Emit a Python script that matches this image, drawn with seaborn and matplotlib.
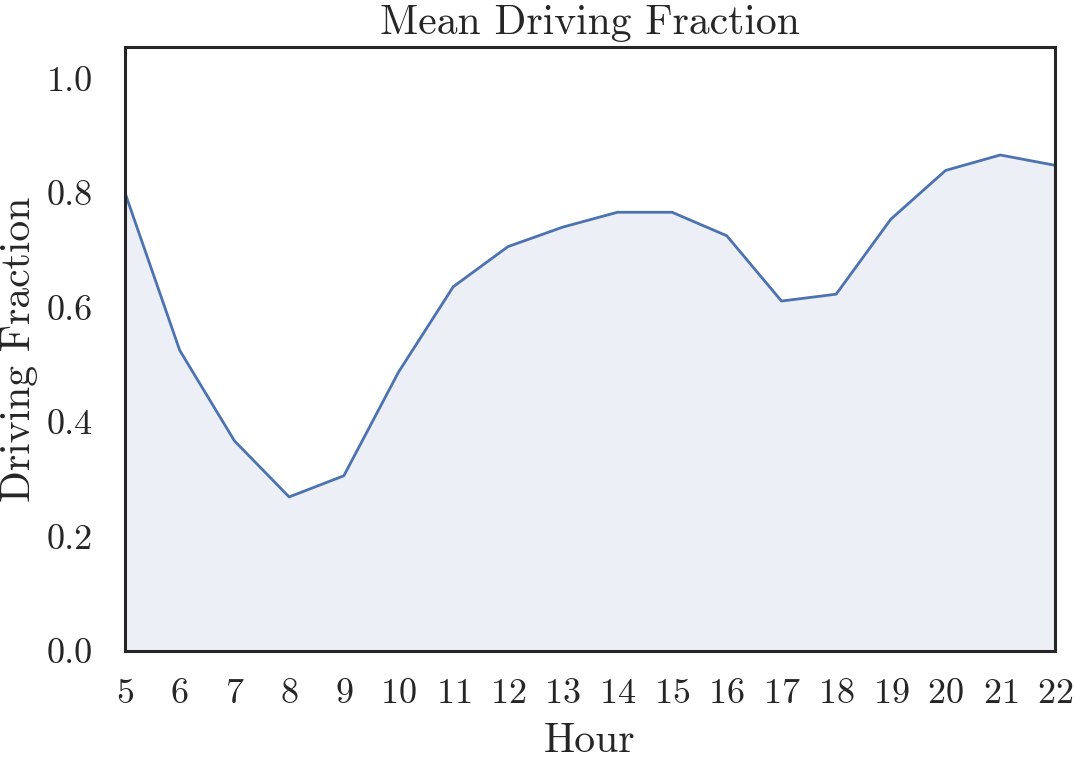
import matplotlib
matplotlib.use("Agg")
import matplotlib.pyplot as plt
import seaborn as sns
import pandas as pd

# hourly mean driving fraction
hours = [5, 6, 7, 8, 9, 10, 11, 12, 13, 14, 15, 16, 17, 18, 19, 20, 21, 22]
driving_fraction = [0.800, 0.525, 0.367, 0.269, 0.306, 0.487, 0.636, 0.706, 0.740,
                    0.766, 0.766, 0.725, 0.611, 0.623, 0.754, 0.839, 0.866, 0.848]
y_ticks = [0.0, 0.2, 0.4, 0.6, 0.8, 1.0]
y_tick_labels = ["0.0", "0.2", "0.4", "0.6", "0.8", "1.0"]

data = pd.DataFrame({"Hour": hours, "Driving Fraction": driving_fraction})

sns.set_theme(style="white")
# computer modern look, like a LaTeX figure
plt.rcParams["font.family"] = ["cmr10", "DejaVu Serif"]
plt.rcParams["mathtext.fontset"] = "cm"
plt.rcParams["axes.formatter.use_mathtext"] = True
plt.rcParams["axes.edgecolor"] = "#262626"

fig = plt.figure(figsize=(10.74, 7.61), dpi=100)
ax = fig.add_axes([0.1164, 0.1445, 0.8659, 0.7941])

color = sns.color_palette("deep")[0]
sns.lineplot(data=data, x="Hour", y="Driving Fraction", color=color, linewidth=2.0, ax=ax)
ax.fill_between(data["Hour"], data["Driving Fraction"], color=color, alpha=0.1, linewidth=0)

ax.set_xlim(5, 22)
ax.set_ylim(0, 1.055)
ax.set_xticks(hours)
ax.set_yticks(y_ticks)
ax.set_yticklabels(y_tick_labels)
ax.tick_params(axis="x", labelsize=26, pad=14)
ax.tick_params(axis="y", labelsize=26, pad=17)
ax.set_xlabel("Hour", fontsize=30, labelpad=9)
ax.set_ylabel("Driving Fraction", fontsize=30, labelpad=6)
ax.set_title("Mean Driving Fraction", fontsize=30, pad=9)
for s in ax.spines.values():
    s.set_linewidth(2.2)

fig.savefig("out.png", dpi=100)
